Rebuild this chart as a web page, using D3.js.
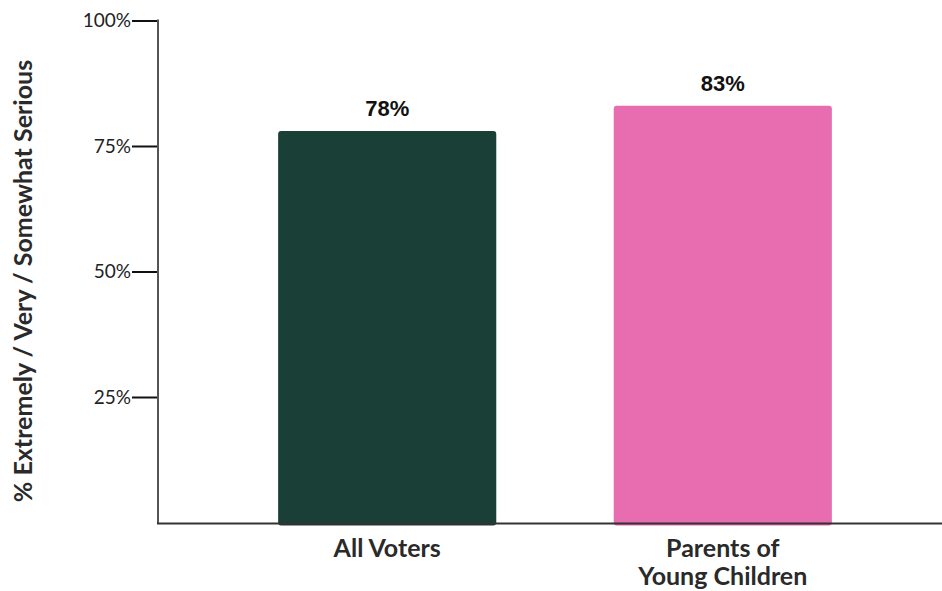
<!DOCTYPE html>
<html>
<head>
<meta charset="utf-8">
<script src="https://cdn.jsdelivr.net/npm/d3@7"></script>
<style>
  html, body { margin: 0; padding: 0; background: #fff; }
  svg { display: block; }
</style>
</head>
<body>
<svg id="chart" width="942" height="591"></svg>
<script>
const categories = [["All Voters"], ["Parents of", "Young Children"]];
const categoryKeys = ["All Voters", "Parents of Young Children"];
const values = [0.78, 0.83];
const colors = ["#1a3f36", "#e86cb0"];
const tickValues = [0.25, 0.5, 0.75, 1.0];
const yLabel = "% Extremely / Very / Somewhat Serious";

(function () {
const svg = d3.select("#chart");
const mLeft = 158, mRight = 952, mTop = 20.5, mBottom = 522.5;

const x = d3.scaleBand().domain(categoryKeys).range([mLeft, mRight])
  .paddingInner(0.35).paddingOuter(0.358);
const y = d3.scaleLinear().domain([0, 1]).range([mBottom, mTop]);

// bars
svg.selectAll("rect.bar").data(values).join("rect")
  .attr("class", "bar")
  .attr("x", (d, i) => x(categoryKeys[i]))
  .attr("width", x.bandwidth())
  .attr("y", d => y(d))
  .attr("height", d => mBottom - y(d) + 3)
  .attr("rx", 3)
  .attr("fill", (d, i) => colors[i]);

// value labels
svg.selectAll("text.val").data(values).join("text")
  .attr("class", "val")
  .attr("x", (d, i) => x(categoryKeys[i]) + x.bandwidth() / 2)
  .attr("y", d => y(d) - 15)
  .attr("text-anchor", "middle")
  .attr("font-family", "Liberation Sans, Arial, sans-serif")
  .attr("font-weight", "bold")
  .attr("font-size", 22)
  .attr("fill", "#111")
  .text(d => Math.round(d * 100) + "%");

// y axis
const yAxis = d3.axisLeft(y).tickValues(tickValues)
  .tickFormat(d3.format(".0%")).tickSize(26).tickPadding(1);
const gy = svg.append("g").attr("transform", `translate(${mLeft},0)`).call(yAxis);
gy.select(".domain").remove();
gy.selectAll(".tick line").attr("stroke", "#111").attr("stroke-width", 2);
gy.selectAll(".tick text").attr("font-family", "Lato, sans-serif")
  .attr("font-size", 19).attr("fill", "#222");

// axis lines
svg.append("line").attr("x1", mLeft).attr("x2", mLeft).attr("y1", mTop - 1).attr("y2", mBottom + 1)
  .attr("stroke", "#555").attr("stroke-width", 2);
svg.append("line").attr("x1", mLeft - 1).attr("x2", 942).attr("y1", mBottom + 1).attr("y2", mBottom + 1)
  .attr("stroke", "#333").attr("stroke-width", 2);

// category labels
const cat = svg.selectAll("text.cat").data(categories).join("text")
  .attr("class", "cat")
  .attr("text-anchor", "middle")
  .attr("font-family", "Lato, sans-serif")
  .attr("font-weight", "bold")
  .attr("font-size", 25)
  .attr("fill", "#2a2a2a");
cat.selectAll("tspan").data((d, i) => d.map(t => ({t, i}))).join("tspan")
  .attr("x", d => x(categoryKeys[d.i]) + x.bandwidth() / 2)
  .attr("y", (d, j) => 557 + j * 28)
  .text(d => d.t);

// y label
svg.append("text")
  .attr("transform", `translate(32,281) rotate(-90)`)
  .attr("text-anchor", "middle")
  .attr("font-family", "Lato, sans-serif")
  .attr("font-weight", "bold")
  .attr("font-size", 25)
  .attr("fill", "#2a2a2a")
  .text(yLabel);
})();
</script>
</body>
</html>
